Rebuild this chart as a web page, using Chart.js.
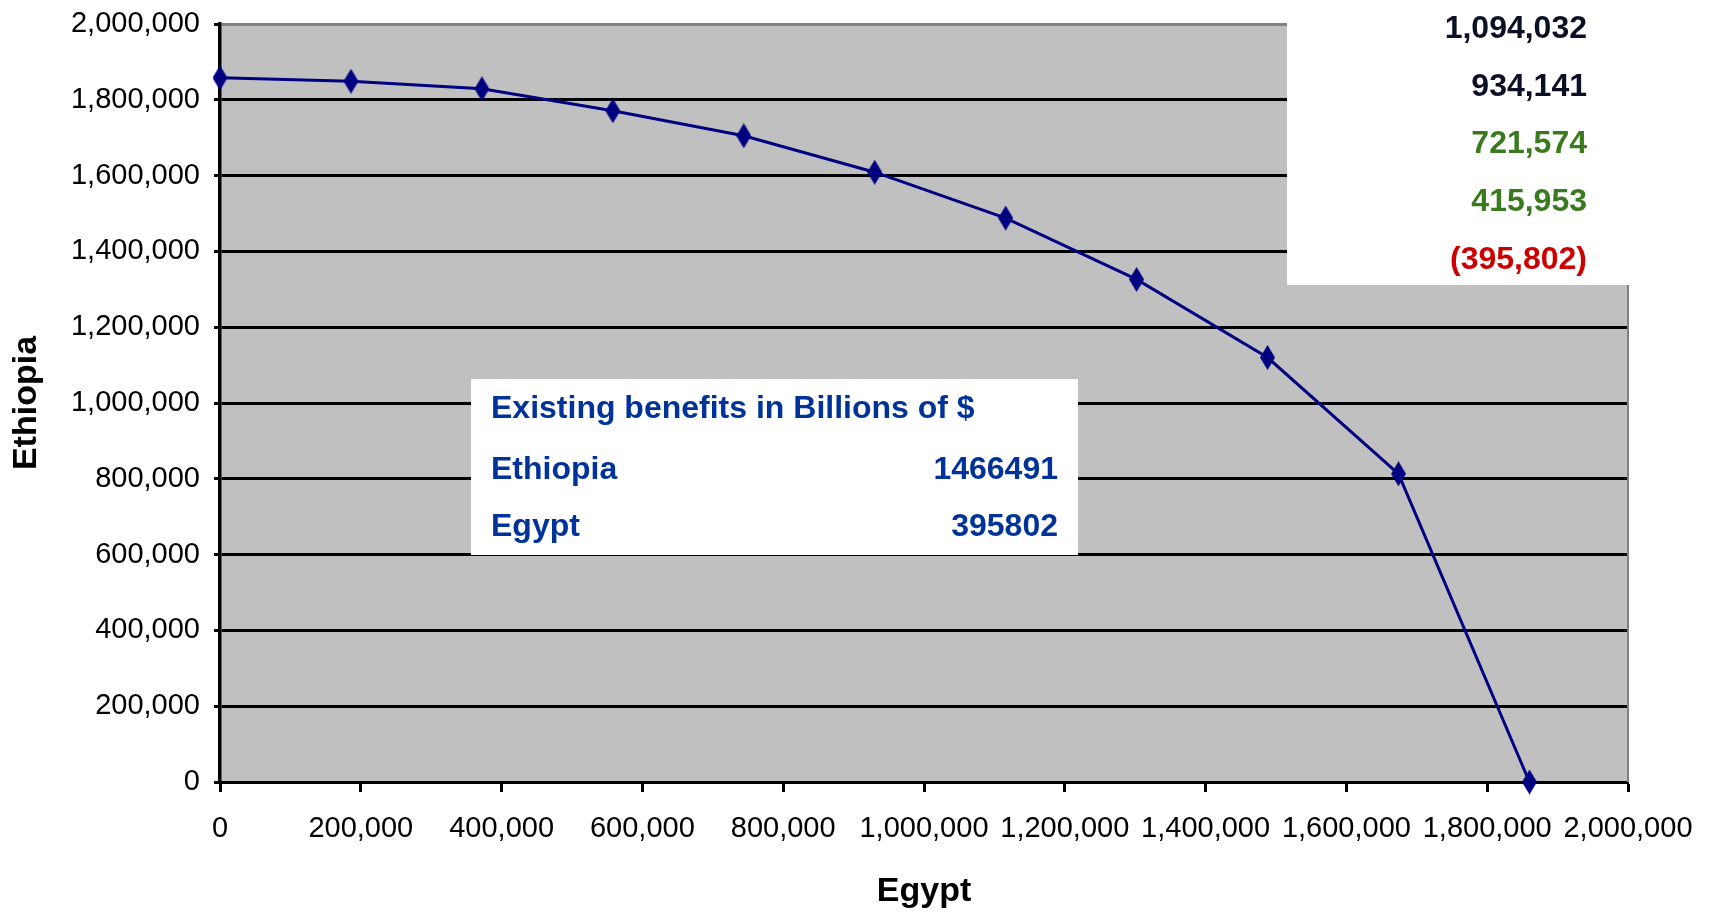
<!DOCTYPE html>
<html>
<head>
<meta charset="utf-8">
<title>Egypt / Ethiopia benefits</title>
<script src="https://cdn.jsdelivr.net/npm/chart.js@4.4.1/dist/chart.umd.min.js"></script>
<style>
  html, body { margin: 0; padding: 0; background: #fff; }
  canvas { display: block; }
</style>
</head>
<body>
<canvas id="frontierChart" width="1719" height="912"></canvas>
<script>
// benefit frontier: Egypt (x) against Ethiopia (y)
const egyptBenefit = [0, 186000, 372000, 558000, 744000, 930000, 1116000, 1302000, 1488000, 1674000, 1860000];
const ethiopiaBenefit = [1858000, 1849000, 1829000, 1771000, 1705000, 1609000, 1488000, 1326000, 1120000, 813000, 0];

const axisMax = 2000000;
const axisStep = 200000;

// cell block at the top right
const sideValues = [1094032, 934141, 721574, 415953, -395802];
const sideColors = ["#0b1024", "#0b1024", "#3a7a1f", "#3a7a1f", "#cc0000"];

// existing benefits table
const benefitTitle = "Existing benefits in Billions of $";
const benefitNames = ["Ethiopia", "Egypt"];
const benefitValues = [1466491, 395802];

const FONT = '"Liberation Sans", Arial, Helvetica, sans-serif';
Chart.defaults.font.family = FONT;
Chart.defaults.color = "#000";

const fmt = (v) => (v < 0 ? "(" + Math.abs(v).toLocaleString("en-US") + ")" : v.toLocaleString("en-US"));

// tall navy diamond like the spreadsheet marker
function diamondMarker(w, h, color) {
  const c = document.createElement("canvas");
  c.width = w;
  c.height = h;
  const g = c.getContext("2d");
  g.fillStyle = color;
  g.beginPath();
  g.moveTo(w / 2, 0);
  g.lineTo(w, h / 2);
  g.lineTo(w / 2, h);
  g.lineTo(0, h / 2);
  g.closePath();
  g.fill();
  return c;
}

const plotBackground = {
  id: "plotBackground",
  beforeDraw(chart) {
    const { ctx, chartArea: a } = chart;
    ctx.save();
    ctx.fillStyle = "#c0c0c0";
    ctx.fillRect(a.left, a.top, a.right - a.left, a.bottom - a.top);
    ctx.restore();
  },
  beforeDatasetsDraw(chart) {
    const { ctx, chartArea: a } = chart;
    ctx.save();
    ctx.strokeStyle = "#808080";
    ctx.lineWidth = 2;
    ctx.beginPath();
    ctx.moveTo(a.right, a.top);
    ctx.lineTo(a.right, a.bottom);
    ctx.stroke();
    ctx.restore();
  },
};

const cellOverlays = {
  id: "cellOverlays",
  afterDraw(chart) {
    const ctx = chart.ctx;
    ctx.save();

    // right-hand cells
    ctx.fillStyle = "#fff";
    ctx.fillRect(1287, 0, 432, 285);
    ctx.font = "bold 32px " + FONT;
    ctx.textAlign = "right";
    ctx.textBaseline = "middle";
    sideValues.forEach((v, i) => {
      ctx.fillStyle = sideColors[i];
      ctx.fillText(fmt(v), 1587, 29 + i * 57.8);
    });

    // benefits table
    ctx.fillStyle = "#fff";
    ctx.fillRect(471, 379, 607, 176);
    ctx.fillStyle = "#003399";
    ctx.textAlign = "left";
    ctx.fillText(benefitTitle, 491, 409);
    benefitNames.forEach((name, i) => {
      const y = 470 + i * 57;
      ctx.textAlign = "left";
      ctx.fillText(name, 491, y);
      ctx.textAlign = "right";
      ctx.fillText(String(benefitValues[i]), 1058, y);
    });
    ctx.restore();
  },
};

const ctx = document.getElementById("frontierChart");
new Chart(ctx, {
  type: "scatter",
  data: {
    datasets: [
      {
        label: "Benefits",
        data: egyptBenefit.map((x, i) => ({ x: x, y: ethiopiaBenefit[i] })),
        showLine: true,
        borderColor: "#000080",
        borderWidth: 3,
        pointStyle: diamondMarker(15, 25, "#000080"),
        pointRadius: 8,
        pointHoverRadius: 8,
        tension: 0,
        clip: false,
      },
    ],
  },
  options: {
    responsive: false,
    animation: false,
    devicePixelRatio: 1,
    layout: { padding: { left: 0, top: 24, right: 91, bottom: 0 } },
    plugins: {
      legend: { display: false },
      tooltip: { enabled: false },
    },
    scales: {
      x: {
        type: "linear",
        min: 0,
        max: axisMax,
        afterFit: (s) => { s.height = 130; },
        border: { color: "#000", width: 3 },
        grid: { drawOnChartArea: false, tickLength: 10, tickWidth: 3, tickColor: "#000" },
        ticks: {
          stepSize: axisStep,
          padding: 20,
          maxRotation: 0,
          autoSkip: false,
          font: { size: 29 },
          callback: (v) => fmt(v),
        },
        title: { display: true, text: "Egypt", font: { size: 34, weight: "bold" }, padding: { top: 0, bottom: 0 } },
      },
      y: {
        type: "linear",
        min: 0,
        max: axisMax,
        afterFit: (s) => {
          s.width = 220;
          // the top label may overhang; keep the plot edge at the layout padding
          s.paddingTop = 0;
          s.paddingBottom = 0;
        },
        border: { color: "#000", width: 3.5 },
        grid: {
          color: (c) => (c.tick && c.tick.value === axisMax ? "#808080" : "#000"),
          lineWidth: 3,
          tickLength: 6,
          tickWidth: 3,
          tickColor: "#000",
        },
        ticks: {
          stepSize: axisStep,
          padding: 14,
          autoSkip: false,
          font: { size: 29 },
          callback: (v) => fmt(v),
        },
        title: { display: true, text: "Ethiopia", font: { size: 34, weight: "bold" }, padding: { top: 6, bottom: 0 } },
      },
    },
  },
  plugins: [plotBackground, cellOverlays],
});
</script>
</body>
</html>
